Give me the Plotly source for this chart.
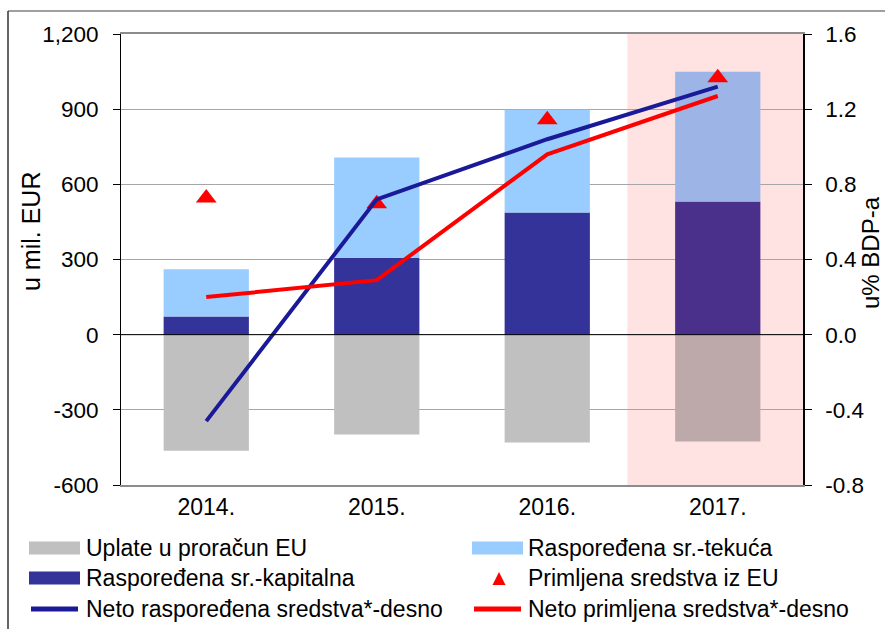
import plotly.graph_objects as go

# ---------------- data ----------------
years = ["2014.", "2015.", "2016.", "2017."]
uplate = [-463, -398, -430, -426]          # Uplate u proračun EU (mil. EUR)
kapitalna = [73, 306, 488, 531]            # Raspoređena sr.-kapitalna
tekuca = [188, 401, 410, 518]              # Raspoređena sr.-tekuća
primljena = [545, 523, 858, 1025]          # Primljena sredstva iz EU
neto_rasp = [-0.46, 0.72, 1.04, 1.32]      # Neto raspoređena sredstva (% BDP)
neto_prim = [0.20, 0.29, 0.96, 1.27]       # Neto primljena sredstva (% BDP)

left_ticks = [-600, -300, 0, 300, 600, 900, 1200]
left_labels = ["-600", "-300", "0", "300", "600", "900", "1,200"]
right_ticks = [-0.8, -0.4, 0.0, 0.4, 0.8, 1.2, 1.6]
right_labels = ["-0.8", "-0.4", "0.0", "0.4", "0.8", "1.2", "1.6"]

legend_names = ["Uplate u proračun EU", "Raspoređena sr.-tekuća",
                "Raspoređena sr.-kapitalna", "Primljena sredstva iz EU",
                "Neto raspoređena sredstva*-desno", "Neto primljena sredstva*-desno"]

# ---------------- styling ----------------
W, H = 885, 629
L, R, T, B = 121, 82, 34, 144
PW, PH = W - L - R, H - T - B
FONT = "Liberation Sans, Arial, sans-serif"

C_GRAY = "#C0C0C0"
C_LIGHT = "#99CCFF"
C_DARK = "#333399"
C_BLUE = "#1A1A99"
C_RED = "#FF0000"
# 2017 bars appear tinted by the pink highlight
gray_cols = [C_GRAY, C_GRAY, C_GRAY, "#BDA9AA"]
light_cols = [C_LIGHT, C_LIGHT, C_LIGHT, "#9DB5E6"]
dark_cols = [C_DARK, C_DARK, C_DARK, "#4A2F8B"]


def px(xp):
    return (xp - L) / PW


def py(yp):
    return (T + PH - yp) / PH


fig = go.Figure()
fig.add_trace(go.Bar(x=years, y=uplate, name=legend_names[0],
                     marker=dict(color=gray_cols, line=dict(width=0)), showlegend=False))
fig.add_trace(go.Bar(x=years, y=kapitalna, name=legend_names[2],
                     marker=dict(color=dark_cols, line=dict(width=0)), showlegend=False))
fig.add_trace(go.Bar(x=years, y=tekuca, name=legend_names[1],
                     marker=dict(color=light_cols, line=dict(width=0)), showlegend=False))
fig.add_trace(go.Scatter(x=years, y=primljena, name=legend_names[3], mode="markers",
                         marker=dict(symbol="triangle-up", size=18, color=C_RED),
                         showlegend=False))
fig.add_trace(go.Scatter(x=years, y=neto_rasp, name=legend_names[4], mode="lines",
                         line=dict(color=C_BLUE, width=4), yaxis="y2", showlegend=False))
fig.add_trace(go.Scatter(x=years, y=neto_prim, name=legend_names[5], mode="lines",
                         line=dict(color=C_RED, width=4), yaxis="y2", showlegend=False))

shapes = []
# highlighted 2017 region
shapes.append(dict(type="rect", xref="x", yref="paper", x0=2.47, x1=3.5, y0=0, y1=1,
                   fillcolor="#FFE2E2", line=dict(width=0), layer="between"))
# zero line
shapes.append(dict(type="line", xref="paper", yref="y", x0=0, x1=1, y0=0, y1=0,
                   line=dict(color="black", width=1), layer="above"))
# outer border (top and left)
shapes.append(dict(type="line", xref="paper", yref="paper", x0=px(8), x1=px(885),
                   y0=py(11), y1=py(11), line=dict(color="#7F7F7F", width=1.5)))
shapes.append(dict(type="line", xref="paper", yref="paper", x0=px(8), x1=px(8),
                   y0=py(11), y1=py(629), line=dict(color="#333333", width=1.5)))

# ---------------- manual legend ----------------
rows = [548, 578, 609]
c1_sym, c2_sym = (29, 80), (472, 523)
c1_txt, c2_txt = 84, 526
annotations = []


def rect_sym(xr, yc, color):
    shapes.append(dict(type="rect", xref="paper", yref="paper",
                       x0=px(xr[0]), x1=px(xr[1]), y0=py(yc + 6.5), y1=py(yc - 6.5),
                       fillcolor=color, line=dict(width=0)))


def line_sym(xr, yc, color):
    shapes.append(dict(type="line", xref="paper", yref="paper",
                       x0=px(xr[0] + 2), x1=px(xr[1] - 2), y0=py(yc), y1=py(yc),
                       line=dict(color=color, width=5)))


rect_sym(c1_sym, rows[0], C_GRAY)
rect_sym(c2_sym, rows[0], C_LIGHT)
rect_sym(c1_sym, rows[1], C_DARK)
# triangle symbol
tx, ty = 499, rows[1] + 1
shapes.append(dict(type="path", xref="paper", yref="paper",
                   path=f"M {px(tx-6.5)},{py(ty+6)} L {px(tx+6.5)},{py(ty+6)} L {px(tx)},{py(ty-7)} Z",
                   fillcolor=C_RED, line=dict(width=0)))
line_sym(c1_sym, rows[2], C_BLUE)
line_sym(c2_sym, rows[2], C_RED)

texts = [(c1_txt, rows[0], legend_names[0]), (c2_txt, rows[0], legend_names[1]),
         (c1_txt, rows[1], legend_names[2]), (c2_txt, rows[1], legend_names[3]),
         (c1_txt, rows[2], legend_names[4]), (c2_txt, rows[2], legend_names[5])]
for x, y, t in texts:
    annotations.append(dict(xref="paper", yref="paper", x=px(x), y=py(y), text=t,
                            showarrow=False, xanchor="left", yanchor="middle",
                            font=dict(family=FONT, size=23, color="black")))

# axis titles
annotations.append(dict(xref="paper", yref="paper", x=px(31), y=py(232), text="u mil. EUR",
                        textangle=-90, showarrow=False, xanchor="center", yanchor="middle",
                        font=dict(family=FONT, size=25, color="black")))
annotations.append(dict(xref="paper", yref="paper", x=px(870), y=py(252), text="u% BDP-a",
                        textangle=-90, showarrow=False, xanchor="center", yanchor="middle",
                        borderpad=0,
                        font=dict(family=FONT, size=24, color="black")))

fig.update_layout(
    width=W, height=H,
    margin=dict(l=L, r=R, t=T, b=B, pad=0),
    paper_bgcolor="white", plot_bgcolor="white",
    barmode="relative", bargap=0.5,
    font=dict(family=FONT, size=22, color="black"),
    showlegend=False,
    shapes=shapes, annotations=annotations,
    xaxis=dict(type="category", range=[-0.5, 3.5], showgrid=False, ticks="",
               showline=True, linecolor="#8C8C8C", linewidth=2, mirror=True,
               automargin=False,
               tickfont=dict(family=FONT, size=23, color="black"), ticklabelstandoff=0),
    yaxis=dict(range=[-600, 1200], tickvals=left_ticks, ticktext=left_labels,
               showgrid=True, gridcolor="#A6A6A6", gridwidth=1, zeroline=False,
               showline=True, linecolor="black", linewidth=1, automargin=False,
               ticks="outside", ticklen=7, tickcolor="black",
               tickfont=dict(family=FONT, size=22.5, color="black"), ticklabelstandoff=10),
    yaxis2=dict(range=[-0.8, 1.6], tickvals=right_ticks, ticktext=right_labels,
                overlaying="y", side="right", showgrid=False, zeroline=False,
                showline=True, linecolor="black", linewidth=1.5, automargin=False,
                ticks="outside", ticklen=7, tickcolor="black",
                tickfont=dict(family=FONT, size=22.5, color="black"), ticklabelstandoff=9),
)

fig.write_html("out.html", config={"displayModeBar": False},
               post_script="document.body.style.margin='0px';document.body.style.overflow='hidden';")
